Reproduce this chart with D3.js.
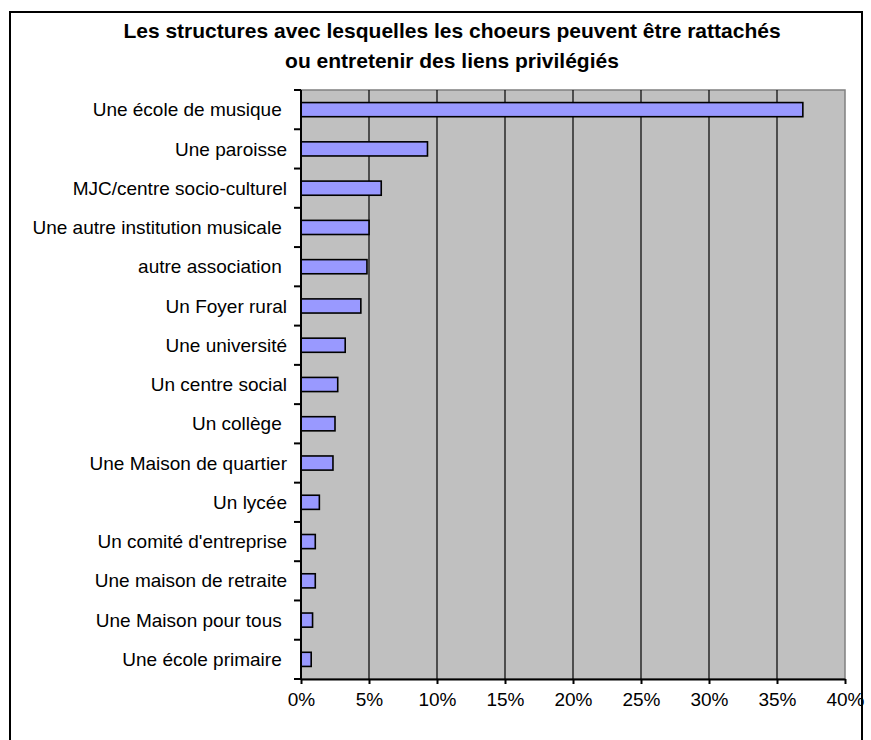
<!DOCTYPE html>
<html>
<head>
<meta charset="utf-8">
<script src="https://cdn.jsdelivr.net/npm/d3@7"></script>
<style>
  body { margin: 0; background: #fff; }
  text { font-family: "Liberation Sans", Arial, sans-serif; white-space: pre; }
</style>
</head>
<body>
<svg width="871" height="740"></svg>
<script>
// Data (share of choirs, %)
var categories = [
    "Une école de musique ", "Une paroisse", "MJC/centre socio-culturel",
    "Une autre institution musicale ", "autre association ", "Un Foyer rural",
    "Une université", "Un centre social", "Un collège ", "Une Maison de quartier",
    "Un lycée", "Un comité d'entreprise", "Une maison de retraite",
    "Une Maison pour tous ", "Une école primaire "
];
var values = [36.9, 9.3, 5.9, 5.0, 4.85, 4.4, 3.25, 2.7, 2.5, 2.35, 1.35, 1.05, 1.05, 0.85, 0.75];
var xTicks = [0, 5, 10, 15, 20, 25, 30, 35, 40];
var titleLines = ["Les structures avec lesquelles les choeurs peuvent être rattachés",
                  "ou entretenir des liens privilégiés"];

var svg = d3.select("svg");
var margin = {top: 90, left: 301, right: 26, bottom: 61};
var width = 871, height = 740;

// outer frame
svg.append("rect")
    .attr("x", 10).attr("y", 12)
    .attr("width", 852).attr("height", 740)
    .attr("fill", "none").attr("stroke", "#000").attr("stroke-width", 2);

svg.selectAll(".title")
    .data(titleLines)
    .enter().append("text")
        .attr("class", "title")
        .attr("x", 452)
        .attr("y", function(d, i) { return 38 + i * 30; })
        .attr("text-anchor", "middle")
        .attr("font-size", "21px")
        .attr("font-weight", "bold")
        .text(function(d) { return d; });

var x = d3.scaleLinear().domain([0, 40]).range([margin.left, width - margin.right]);
var y = d3.scaleBand().domain(categories)
    .range([margin.top, height - margin.bottom])
    .paddingInner(0.64).paddingOuter(0.32);

var plotTop = margin.top, plotBottom = height - margin.bottom;

// plot background
svg.append("rect")
    .attr("x", x(0)).attr("y", plotTop)
    .attr("width", x(40) - x(0)).attr("height", plotBottom - plotTop)
    .attr("fill", "#c0c0c0").attr("stroke", "#808080").attr("stroke-width", 1.5);

// gridlines
svg.append("g")
    .selectAll("line")
    .data(xTicks.slice(1, -1))
    .enter().append("line")
        .attr("x1", function(d) { return x(d); })
        .attr("x2", function(d) { return x(d); })
        .attr("y1", plotTop).attr("y2", plotBottom)
        .attr("stroke", "#000").attr("stroke-width", 1.2);

// bars
svg.append("g")
    .selectAll("rect")
    .data(values)
    .enter().append("rect")
        .attr("x", x(0))
        .attr("y", function(d, i) { return y(categories[i]); })
        .attr("width", function(d) { return x(d) - x(0); })
        .attr("height", y.bandwidth())
        .attr("fill", "#9999ff")
        .attr("stroke", "#000").attr("stroke-width", 1.6);

// category labels
svg.append("g")
    .selectAll("text")
    .data(categories)
    .enter().append("text")
        .attr("x", 287)
        .attr("y", function(d) { return y(d) + y.bandwidth() / 2; })
        .attr("dy", "0.35em")
        .attr("text-anchor", "end")
        .attr("font-size", "19px")
        .text(function(d) { return d; });

// y axis with ticks between categories
var step = y.step();
var yBounds = d3.range(categories.length + 1);
var yAxis = svg.append("g");
yAxis.append("line")
    .attr("x1", x(0)).attr("x2", x(0))
    .attr("y1", plotTop).attr("y2", plotBottom)
    .attr("stroke", "#000").attr("stroke-width", 2);
yAxis.selectAll(".tk")
    .data(yBounds)
    .enter().append("line")
        .attr("x1", x(0) - 7).attr("x2", x(0))
        .attr("y1", function(d) { return plotTop + d * step; })
        .attr("y2", function(d) { return plotTop + d * step; })
        .attr("stroke", "#000").attr("stroke-width", 2);

// x axis
var xAxis = svg.append("g")
    .attr("transform", "translate(0," + plotBottom + ")")
    .call(d3.axisBottom(x).tickValues(xTicks)
        .tickFormat(function(d) { return d + "%"; })
        .tickSize(5).tickPadding(9).tickSizeOuter(0));
xAxis.select(".domain").attr("stroke", "#000").attr("stroke-width", 2);
xAxis.selectAll(".tick line").attr("stroke", "#000").attr("stroke-width", 2);
xAxis.selectAll(".tick text")
    .attr("font-family", "Liberation Sans, Arial, sans-serif")
    .attr("font-size", "19px").attr("fill", "#000");
</script>
</body>
</html>
